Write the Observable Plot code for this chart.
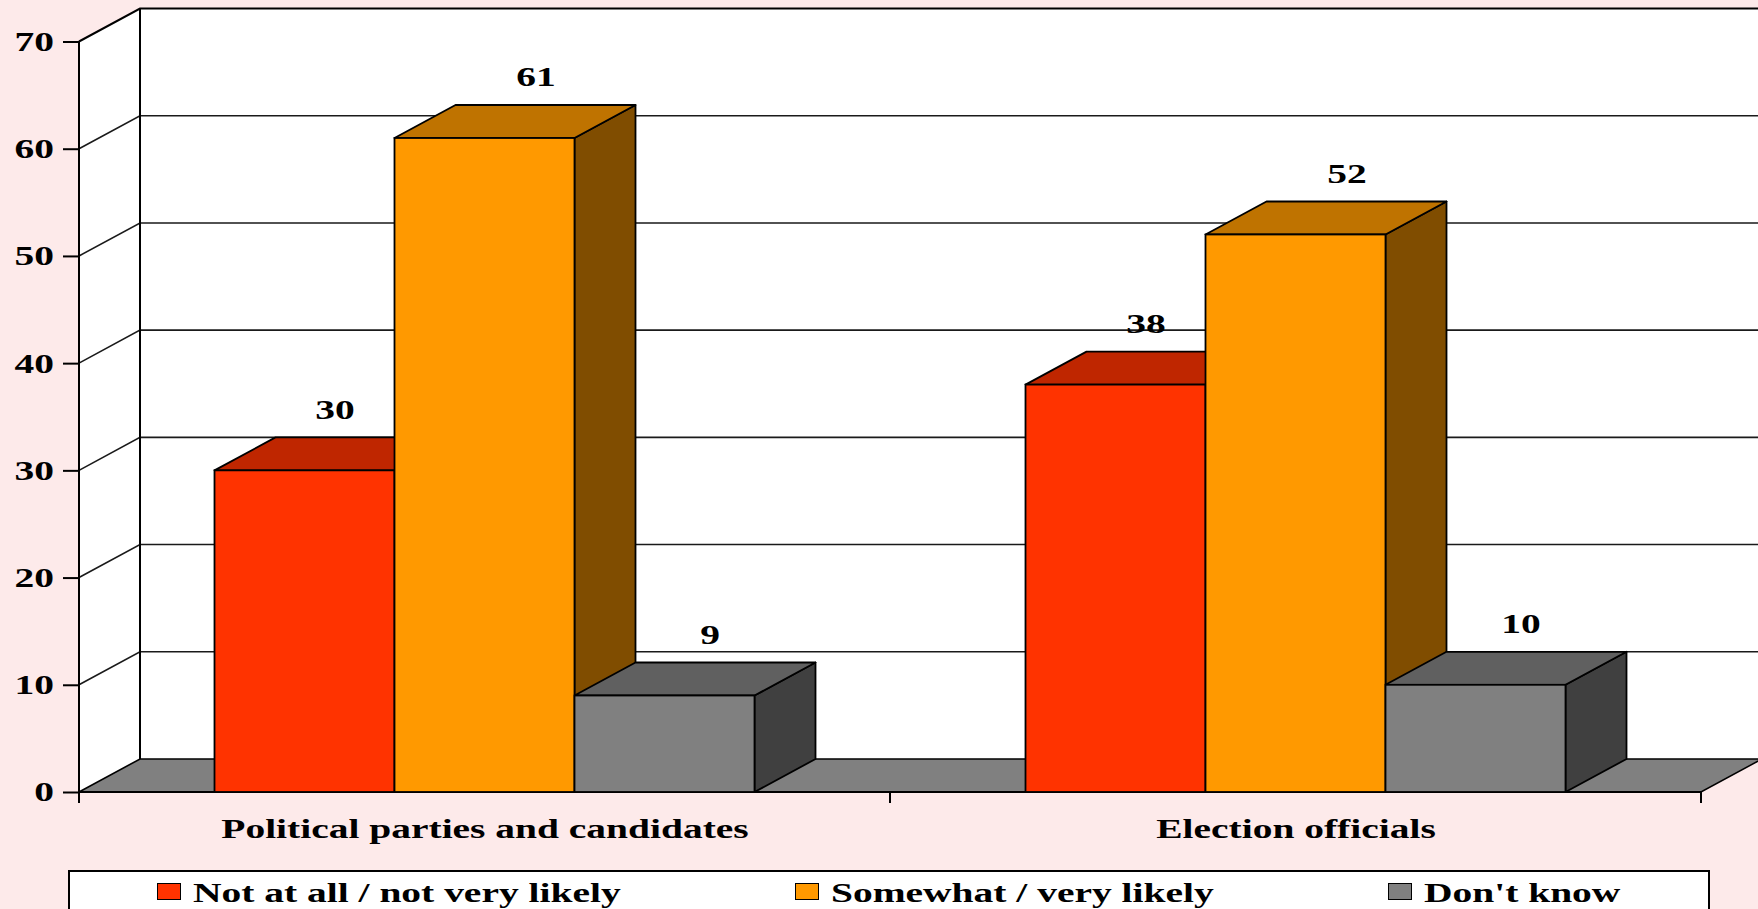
<!DOCTYPE html>
<html>
<head>
<meta charset="utf-8">
<script src="https://cdn.jsdelivr.net/npm/d3@7"></script>
<script src="https://cdn.jsdelivr.net/npm/@observablehq/plot@0.6"></script>
<style>
  html, body { margin: 0; padding: 0; background: #FDEAEA; overflow: hidden; }
  #chart svg { display: block; }
  #chart g[aria-label="y-axis tick"] path { stroke-width: 2; stroke: #000; }
  .legend {
    margin: 4px 0 0 68px; width: 1642px; height: 70px; box-sizing: border-box;
    border: 2px solid #000; background: #fff;
    display: flex; justify-content: space-around; align-items: flex-start;
  }
  .legend .item { display: flex; align-items: flex-start; }
  .legend .swatch {
    display: inline-block; width: 24px; height: 17px; margin-top: 11px;
    box-sizing: border-box; border: 1.5px solid #000;
  }
  .legend .lab { display: inline-block; margin-left: 12px; margin-top: 4.5px; height: 28px; }
  .legend .txt {
    display: inline-block; white-space: nowrap; line-height: 28px;
    font: bold 28px "Liberation Serif", "Times New Roman", serif; color: #000;
    transform: scaleX(1.41); transform-origin: 0 0;
  }
</style>
</head>
<body>
<div id="chart"></div>
<script>
// Survey answers, in percent, for each group asked about
const categories = ["Political parties and candidates", "Election officials"];
const series = ["Not at all / not very likely", "Somewhat / very likely", "Don't know"];
const colors = ["#FF3300", "#FF9900", "#808080"];
const notLikely = [30, 38];
const somewhatLikely = [61, 52];
const dontKnow = [9, 10];
const yTicks = [0, 10, 20, 30, 40, 50, 60, 70];

// Long table built from the series arrays
const valuesBySeries = [notLikely, somewhatLikely, dontKnow];
const rows = [];
categories.forEach((category, c) => {
  series.forEach((s, i) => rows.push({category, series: s, value: valuesBySeries[i][c]}));
});

// Oblique projection used for the 3-D look (pixels toward the back)
const DEPTH_X = 61, DEPTH_Y = -33;
// Horizontal stretch of the bold serif lettering
const STRETCH = 1.41;
// Label offsets above each box, per series
const labelShift = {[series[0]]: 30, [series[1]]: 51, [series[2]]: 45};

const pathOf = (pts) => "M" + pts.map(p => p.join(",")).join("L") + "Z";
const shade = (color, k) => {
  const c = d3.rgb(color);
  return d3.rgb(c.r * k, c.g * k, c.b * k).formatHex();
};

// Floor, side wall, back wall and gridlines, drawn once behind the facets
function drawRoom(index, scales, values, dims) {
  const {y, fx} = scales;
  const x0 = dims.marginLeft, x1 = dims.width - dims.marginRight;
  const vTop = yTicks[yTicks.length - 1];
  const base = y(0), top = y(vTop);
  const g = d3.create("svg:g");
  // back wall
  g.append("rect")
    .attr("x", x0 + DEPTH_X).attr("y", top + DEPTH_Y)
    .attr("width", x1 - x0).attr("height", base - top)
    .attr("fill", "#fff");
  // side wall
  g.append("path")
    .attr("d", pathOf([[x0, base], [x0, top], [x0 + DEPTH_X, top + DEPTH_Y], [x0 + DEPTH_X, base + DEPTH_Y]]))
    .attr("fill", "#fff");
  // gridlines on both walls
  for (const v of yTicks.slice(1)) {
    const yy = y(v);
    const w = v === vTop ? 2 : 1.6;
    g.append("path")
      .attr("d", `M${x0},${yy}L${x0 + DEPTH_X},${yy + DEPTH_Y}L${x1 + DEPTH_X},${yy + DEPTH_Y}`)
      .attr("fill", "none").attr("stroke", v === vTop ? "#000" : "#1a1a1a").attr("stroke-width", w);
  }
  // floor
  g.append("path")
    .attr("d", pathOf([[x0, base], [x1, base], [x1 + DEPTH_X, base + DEPTH_Y], [x0 + DEPTH_X, base + DEPTH_Y]]))
    .attr("fill", "#808080").attr("stroke", "#000").attr("stroke-width", 1.6);
  // wall edges
  g.append("path")
    .attr("d", `M${x0 + DEPTH_X},${base + DEPTH_Y}L${x0 + DEPTH_X},${top + DEPTH_Y}`)
    .attr("stroke", "#000").attr("stroke-width", 2);
  g.append("path")
    .attr("d", `M${x0},${base + 11}L${x0},${top}`)
    .attr("stroke", "#000").attr("stroke-width", 2);
  g.append("path")
    .attr("d", `M${x0},${base}L${x1},${base}`)
    .attr("stroke", "#000").attr("stroke-width", 2);
  // category boundary ticks
  const bounds = fx
    ? [...categories.map(c => fx(c)), x1]
    : [x0, (x0 + x1) / 2, x1];
  for (const bx of bounds) {
    g.append("path").attr("d", `M${bx},${base}L${bx},${base + 11}`)
      .attr("stroke", "#000").attr("stroke-width", 2);
  }
  return g.node();
}

// Side and top faces of each box, then the default front faces on top
function drawBoxes(index, scales, values, dims, context, next) {
  const front = next(index, scales, values, dims, context);
  const bw = typeof scales.x.bandwidth === "function" ? scales.x.bandwidth() : scales.x.bandwidth;
  const {x: X, y1: Y1, y2: Y2, fill: F} = values;
  const g = d3.create("svg:g");
  const faces = [];
  for (const i of index) {
    const xl = X[i], xr = X[i] + bw;
    const yt = Math.min(Y1[i], Y2[i]), yb = Math.max(Y1[i], Y2[i]);
    faces.push({i, xl, xr, yt, yb});
  }
  for (const f of faces) {
    g.append("path")
      .attr("d", pathOf([[f.xr, f.yt], [f.xr + DEPTH_X, f.yt + DEPTH_Y], [f.xr + DEPTH_X, f.yb + DEPTH_Y], [f.xr, f.yb]]))
      .attr("fill", shade(F[f.i], 0.5)).attr("stroke", "#000").attr("stroke-width", 1.8)
      .attr("stroke-linejoin", "round");
  }
  for (const f of faces) {
    g.append("path")
      .attr("d", pathOf([[f.xl, f.yt], [f.xr, f.yt], [f.xr + DEPTH_X, f.yt + DEPTH_Y], [f.xl + DEPTH_X, f.yt + DEPTH_Y]]))
      .attr("fill", shade(F[f.i], 0.75)).attr("stroke", "#000").attr("stroke-width", 1.8)
      .attr("stroke-linejoin", "round");
  }
  g.append(() => front);
  return g.node();
}

const W = 1758, H = 866;

const chart = Plot.plot({
  width: W,
  height: H,
  marginLeft: 78.5,
  marginRight: 56,
  marginTop: 41.5,
  marginBottom: 74,
  style: {
    background: "transparent",
    fontFamily: "'Liberation Serif', 'Times New Roman', serif",
    fontSize: "28px",
    fontWeight: "bold",
    color: "#000",
    overflow: "visible"
  },
  fx: {domain: categories, padding: 0, axis: "bottom", label: null, tickSize: 0, tickPadding: 26},
  x: {domain: series, paddingInner: 0, paddingOuter: 0.75, axis: null},
  y: {domain: [0, 70], ticks: yTicks, tickSize: 16, tickPadding: 9.5, label: null},
  color: {domain: series, range: colors},
  marks: [
    Plot.frame({facet: "super", stroke: "none", render: drawRoom}),
    Plot.barY(rows, {
      fx: "category", x: "series", y: "value", fill: "series",
      stroke: "#000", strokeWidth: 1.8, render: drawBoxes
    }),
    ...series.map(s => Plot.text(rows.filter(d => d.series === s), {
      fx: "category", x: "series", y: "value",
      text: d => String(d.value),
      dx: labelShift[s], dy: -61,
      fill: "#000", fontSize: 28, fontWeight: "bold"
    }))
  ]
});

// Widen the lettering horizontally around each text anchor
chart.querySelectorAll("text").forEach(t => {
  const x = +t.getAttribute("x") || 0;
  const tr = t.getAttribute("transform") || "";
  t.setAttribute("transform", `${tr} translate(${x},0) scale(${STRETCH},1) translate(${-x},0)`);
});

document.getElementById("chart").append(chart);

// Legend below the chart
const legend = d3.select("body").append("div").attr("class", "legend");
series.forEach((s, i) => {
  const item = legend.append("div").attr("class", "item");
  item.append("span").attr("class", "swatch").style("background", colors[i]);
  const lab = item.append("span").attr("class", "lab");
  const txt = lab.append("span").attr("class", "txt").text(s);
  lab.style("width", txt.node().getBoundingClientRect().width + "px");
});
</script>
</body>
</html>
